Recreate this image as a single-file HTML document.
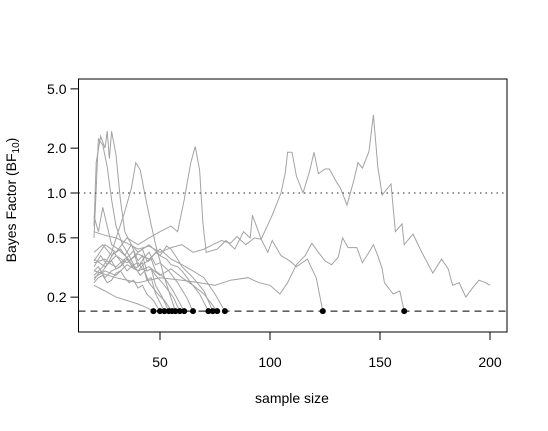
<!DOCTYPE html>
<html><head><meta charset="utf-8"><style>
html,body{margin:0;padding:0;background:#fff}
svg{display:block;font-family:"Liberation Sans",Arial,sans-serif}
</style></head><body>
<svg id="chart" width="548" height="431" viewBox="0 0 548 431" xmlns="http://www.w3.org/2000/svg">
<g id="lines"></g>
<g id="dots"></g>
<g id="axes"></g>
</svg>
<script>
const yTicks = [5.0, 2.0, 1.0, 0.5, 0.2];
const yTickLabels = ["5.0", "2.0", "1.0", "0.5", "0.2"];
const xTicks = [50, 100, 150, 200];
const xTickLabels = ["50", "100", "150", "200"];
const refLine = 1.0;
const threshold = 0.161;
const s1 = [[20,0.24],[25,0.22],[30,0.20],[35,0.19],[40,0.18],[44,0.17],[47,0.161]];
const s2 = [[20,0.25],[22,0.27],[24,0.28],[26,0.25],[28,0.26],[30,0.29],[32,0.30],[34,0.27],[36,0.25],[38,0.26],[40,0.23],[42,0.24],[44,0.21],[47,0.19],[50,0.161]];
const s3 = [[20,0.5],[22,2.3],[24,2.1],[26,1.5],[28,0.9],[30,0.6],[33,0.45],[36,0.38],[38,0.41],[40,0.32],[42,0.34],[44,0.26],[46,0.27],[48,0.21],[52,0.161]];
const s4 = [[20,0.6],[21,1.6],[23,2.4],[25,2.0],[26,2.6],[27,1.7],[28,2.6],[30,1.8],[32,0.9],[34,0.55],[37,0.45],[40,0.35],[42,0.38],[44,0.30],[46,0.31],[48,0.24],[51,0.2],[54,0.161]];
const s5 = [[20,0.32],[23,0.38],[26,0.33],[29,0.40],[32,0.35],[35,0.30],[38,0.33],[41,0.28],[43,0.30],[45,0.25],[49,0.21],[52,0.19],[55.5,0.161]];
const s6 = [[20,0.28],[24,0.32],[28,0.40],[31,0.55],[34,0.75],[37,1.08],[39,1.6],[41,1.43],[43,1.0],[45.5,0.66],[48,0.45],[50,0.35],[52,0.27],[54,0.22],[57,0.161]];
const s7 = [[20,0.26],[22,0.29],[24,0.30],[26,0.33],[28,0.35],[30,0.31],[32,0.32],[34,0.36],[36,0.38],[38,0.33],[40,0.34],[42,0.31],[44,0.30],[46,0.31],[48,0.28],[50,0.26],[52,0.24],[56,0.20],[59,0.161]];
const s8 = [[20,0.7],[22,0.55],[24,0.8],[26,0.6],[28,0.45],[31,0.42],[34,0.38],[37,0.45],[40,0.40],[42,0.42],[44,0.35],[46,0.36],[48,0.30],[52,0.27],[56,0.22],[61,0.161]];
const s9 = [[20,0.30],[22,0.32],[25,0.27],[28,0.30],[30,0.31],[33,0.33],[35,0.36],[38,0.31],[40,0.32],[43,0.37],[45,0.40],[48,0.33],[50,0.34],[54,0.30],[58,0.25],[62,0.20],[65,0.161]];
const s10 = [[20,0.34],[25,0.36],[28,0.33],[30,0.32],[33,0.35],[35,0.37],[38,0.32],[40,0.30],[43,0.34],[45,0.35],[48,0.40],[50,0.38],[53,0.36],[55,0.33],[58,0.32],[60,0.30],[64,0.25],[68,0.21],[72,0.161]];
const s11 = [[20,0.40],[24,0.45],[28,0.38],[32,0.42],[36,0.35],[40,0.40],[45,0.45],[48,0.41],[50,0.38],[53,0.44],[55,0.42],[58,0.36],[60,0.32],[65,0.27],[70,0.22],[74,0.161]];
const s12 = [[20,0.27],[25,0.30],[30,0.28],[35,0.33],[40,0.30],[45,0.32],[50,0.28],[55,0.31],[60,0.27],[65,0.24],[70,0.21],[76,0.161]];
const s13 = [[20,0.36],[25,0.32],[30,0.38],[35,0.34],[40,0.39],[45,0.36],[50,0.42],[55,0.36],[60,0.33],[65,0.30],[70,0.27],[75,0.21],[79.5,0.161]];
const sC = [[20,0.55],[25,0.52],[30,0.50],[35,0.46],[40,0.42],[45,0.44],[50,0.40],[55,0.43],[60,0.45],[65,0.40],[70,0.42],[74,0.45],[78,0.48],[82,0.46],[85,0.51],[89,0.45],[93,0.50],[96,0.49],[99,0.40],[101,0.48],[105,0.38],[109,0.35],[112,0.32],[117,0.36],[119.5,0.30],[121,0.27],[124,0.161]];
const sB = [[20,0.30],[30,0.27],[40,0.25],[50,0.27],[60,0.26],[68,0.25],[75,0.24],[82,0.26],[90,0.27],[95,0.25],[100,0.24],[104.5,0.21],[108,0.25],[112,0.33],[116,0.38],[119,0.46],[122,0.40],[125,0.35],[128,0.33],[131,0.37],[133,0.50],[135.5,0.43],[139.5,0.43],[142,0.34],[145,0.40],[147,0.45],[149,0.38],[151,0.31],[152,0.25],[156,0.21],[159,0.22],[161,0.161]];
const sA = [[20,0.35],[25,0.45],[30,0.40],[35,0.5],[40,0.45],[45,0.50],[50,0.55],[55,0.60],[58,0.55],[61,0.90],[64,1.6],[66,2.05],[68,1.43],[69.5,0.63],[71,0.40],[76,0.42],[80,0.48],[84,0.42],[88,0.55],[91,0.5],[92,0.71],[96,0.49],[101,0.71],[105,1.0],[107,1.38],[108,1.88],[110,1.88],[112,1.3],[115,1.0],[118,1.4],[120,1.88],[122,1.35],[125,1.45],[127,1.45],[130,1.2],[132,1.08],[135,0.83],[138,1.2],[140,1.6],[142,1.47],[145,1.9],[147,3.35],[149,1.5],[151,0.97],[155,1.15],[157,0.55],[160,0.62],[161,0.45],[165,0.53],[169,0.40],[172,0.33],[174,0.29],[178,0.36],[181,0.31],[183,0.24],[186,0.25],[189,0.20],[192,0.23],[195,0.26],[198,0.25],[200,0.24]];
const seriesList = [s1,s2,s3,s4,s5,s6,s7,s8,s9,s10,s11,s12,s13,sC,sB,sA];
const stopsAtThreshold = [true,true,true,true,true,true,true,true,true,true,true,true,true,true,true,false];

const NS = "http://www.w3.org/2000/svg";
const L = 78.5, R = 507, T = 79, B = 332;
function xScale(n){ return 160 + 2.2*(n - 50); }
function yScale(v){ return 193 - 149*Math.log10(v); }
function mk(tag, attrs, parent){ const e=document.createElementNS(NS,tag); for(const k in attrs) e.setAttribute(k,attrs[k]); parent.appendChild(e); return e; }

const gl = document.getElementById('lines');
seriesList.forEach((s,i)=>{
  const pts = s.map(p=>xScale(p[0]).toFixed(1)+","+yScale(p[1]).toFixed(1)).join(" ");
  const pl = mk('polyline',{points:pts,fill:'none',stroke:'#a3a3a3','stroke-width':1},gl);
  
  
});
const ga = document.getElementById('axes');
const hl = mk('line',{x1:L,x2:R,y1:yScale(refLine),y2:yScale(refLine),stroke:'#555','stroke-width':1.3,'stroke-dasharray':'1.5,4'},ga);


const th = mk('line',{x1:L,x2:R,y1:yScale(threshold),y2:yScale(threshold),stroke:'#000','stroke-width':1,'stroke-dasharray':'7,5'},ga);


const gd = document.getElementById('dots');
seriesList.forEach((s,i)=>{
  if(!stopsAtThreshold[i]) return;
  const last = s[s.length-1];
  const c = mk('circle',{cx:xScale(last[0]),cy:yScale(threshold),r:3,fill:'#000'},gd);
  
  
});
const box = mk('rect',{x:L,y:T,width:R-L,height:B-T,fill:'none',stroke:'#000','stroke-width':1},ga);


yTicks.forEach((v,i)=>{
  const y = yScale(v);
  const t = mk('line',{x1:L-8,x2:L,y1:y,y2:y,stroke:'#000','stroke-width':1},ga);
  
  
  const tx = mk('text',{x:L-12,y:y+5,'text-anchor':'end','font-size':14},ga);
  tx.textContent = yTickLabels[i];
  
  
});
xTicks.forEach((v,i)=>{
  const x = xScale(v);
  const t = mk('line',{x1:x,x2:x,y1:B,y2:B+8,stroke:'#000','stroke-width':1},ga);
  
  
  const tx = mk('text',{x:x,y:B+35,'text-anchor':'middle','font-size':14},ga);
  tx.textContent = xTickLabels[i];
  
  
});
const xt = mk('text',{x:292,y:403,'text-anchor':'middle','font-size':14},ga);
xt.textContent = 'sample size';


const yt = mk('text',{x:0,y:0,'text-anchor':'middle','font-size':14,transform:'translate(16,200) rotate(-90)'},ga);


yt.innerHTML = 'Bayes Factor (BF<tspan font-size="10" dy="3">10</tspan><tspan dy="-3">)</tspan>';
</script>
</body></html>
